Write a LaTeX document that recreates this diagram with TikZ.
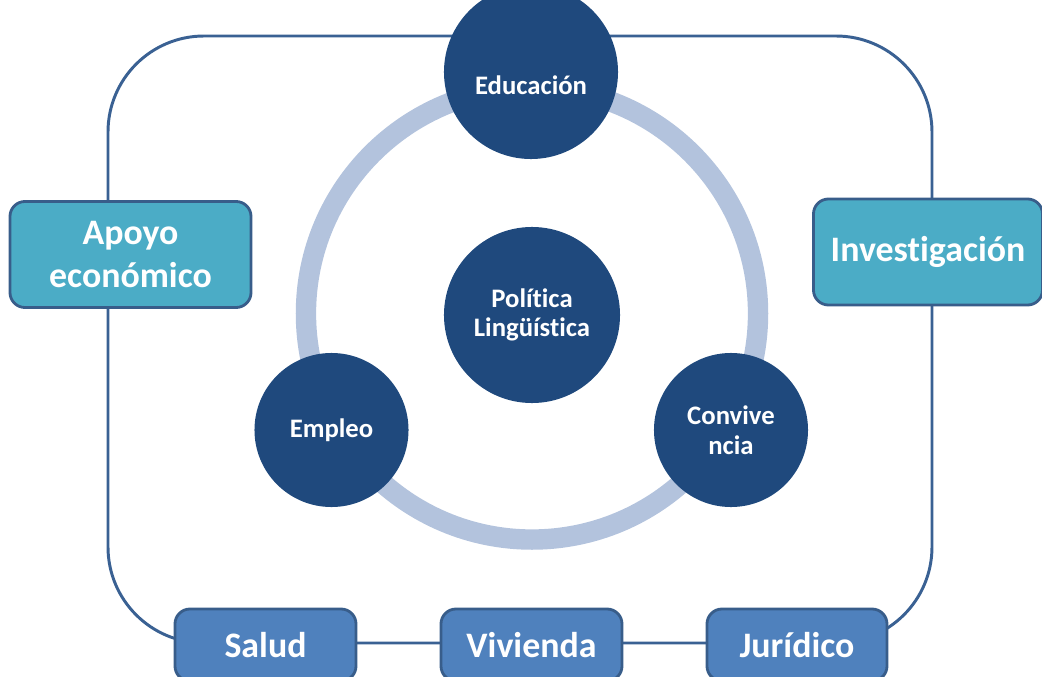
\documentclass[tikz,border=0pt]{standalone}
\usepackage{fontspec}
\setmainfont{Carlito}[Ligatures={NoCommon,NoContextual}]

\definecolor{darkblue}{HTML}{1F497D}
\definecolor{ringblue}{HTML}{B3C3DD}
\definecolor{lineblue}{HTML}{3A6193}
\definecolor{tealbox}{HTML}{4BACC6}
\definecolor{midblue}{HTML}{4F81BD}
\definecolor{edgeblue}{HTML}{385D8A}

\begin{document}
\begin{tikzpicture}[x=0.025cm,y=-0.025cm]

      \useasboundingbox (0,0) rectangle (1042,677);

      % frame and ring
      \draw[lineblue,line width=2.1pt,rounded corners=2.4cm] (108,36) rectangle (932,643);
      \draw[ringblue,line width=14.5pt] (532,313.5) circle (5.65cm);

      \begin{scope}[every node/.style={circle,fill=darkblue,text=white,inner sep=0pt,
          align=center,font=\fontsize{19}{21}\selectfont\bfseries},
          every label/.style={text=white,font=\fontsize{19}{21}\selectfont\bfseries}]
        \node[minimum size=4.35cm,label={[yshift=-0.33cm]center:Educación}] (edu) at (531,72) {};
        \node[minimum size=4.4cm]  (pol) at (532,315) {Política\\Lingüística};
        \node[minimum size=3.85cm] (emp) at (331.5,430) {Empleo};
        \node[minimum size=3.85cm] (con) at (731,430) {Convive\\ncia};
      \end{scope}

      \begin{scope}[every node/.style={draw=edgeblue,line width=2pt,rounded corners=0.375cm,
          text=white,align=center,inner sep=0pt,font=\fontsize{25.5}{30}\selectfont\bfseries}]
        \node[fill=tealbox,minimum width=6.025cm,minimum height=2.65cm] (apo) at (130.5,254.5) {Apoyo\\económico};
        \node[fill=tealbox,minimum width=5.725cm,minimum height=2.65cm] (inv) at (928,252) {Investigación};
        \node[fill=midblue,minimum width=4.525cm,minimum height=1.8cm] (sal) at (265.5,645) {Salud};
        \node[fill=midblue,minimum width=4.525cm,minimum height=1.8cm] (viv) at (531.5,645) {Vivienda};
        \node[fill=midblue,minimum width=4.5cm,minimum height=1.8cm]   (jur) at (797,645) {Jurídico};
      \end{scope}

    \end{tikzpicture}
\end{document}
